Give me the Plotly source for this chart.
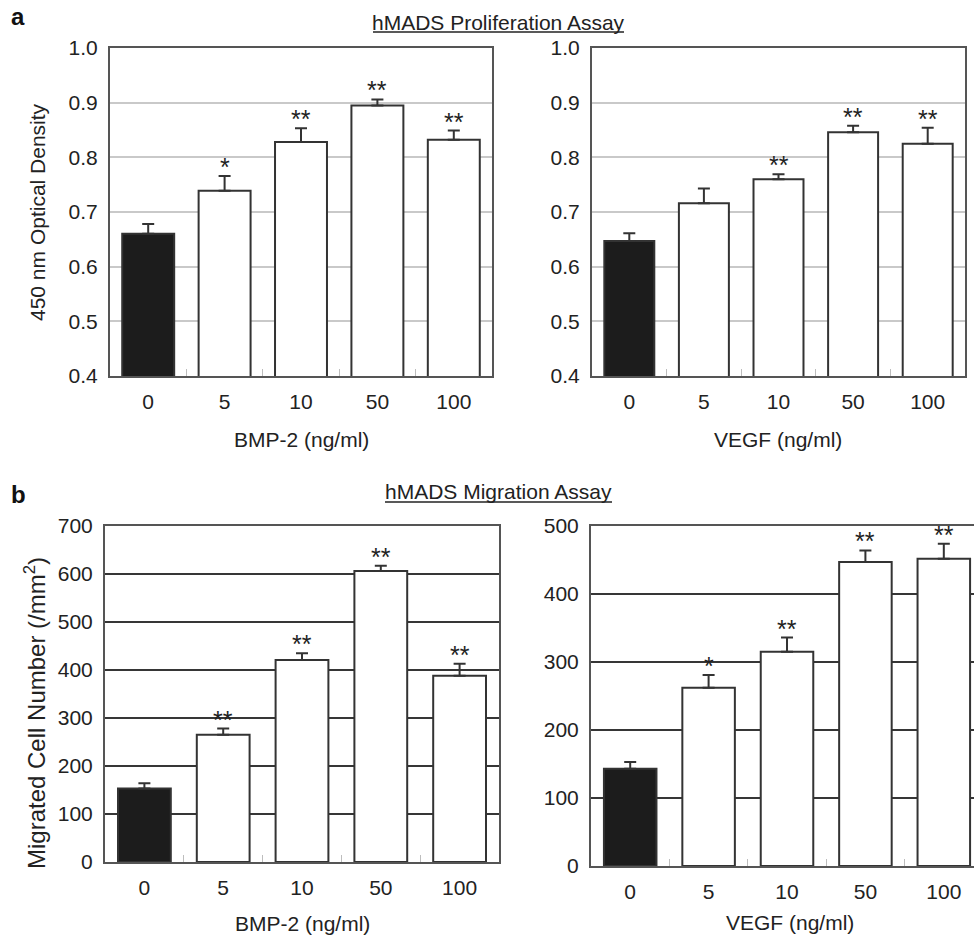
import plotly.graph_objects as go

# ---------------- data ----------------
doses = ["0", "5", "10", "50", "100"]

prolif_bmp2 = [0.660, 0.739, 0.828, 0.895, 0.832]
prolif_bmp2_err = [0.018, 0.027, 0.025, 0.011, 0.017]
prolif_bmp2_sig = ["", "*", "**", "**", "**"]

prolif_vegf = [0.647, 0.716, 0.760, 0.846, 0.825]
prolif_vegf_err = [0.014, 0.027, 0.009, 0.012, 0.029]
prolif_vegf_sig = ["", "", "**", "**", "**"]

migr_bmp2 = [153, 265, 421, 606, 388]
migr_bmp2_err = [11, 13, 14, 11, 25]
migr_bmp2_sig = ["", "**", "**", "**", "**"]

migr_vegf = [143, 262, 315, 447, 452]
migr_vegf_err = [10, 19, 21, 17, 22]
migr_vegf_sig = ["", "*", "**", "**", "**"]

W, H = 974, 937
FONT = "Liberation Sans, Arial, Helvetica, sans-serif"
TXT = "#222222"


def px_x(a, b):
    return [a / W, b / W]


def px_y(top, bottom):
    return [1 - bottom / H, 1 - top / H]


panels = [
    # (values, errors, sig, xaxis, yaxis, xdom, ydom, yrange, dtick, gridcolor, bargap, xrange, mirror_y)
    (prolif_bmp2, prolif_bmp2_err, prolif_bmp2_sig, "x", "y", px_x(110, 492), px_y(48, 376),
     [0.4, 1.0], 0.1, "#c9c9c9", 0.32, [-0.5, 4.5], True),
    (prolif_vegf, prolif_vegf_err, prolif_vegf_sig, "x2", "y2", px_x(592, 965), px_y(48, 376),
     [0.4, 1.0], 0.1, "#c9c9c9", 0.33, [-0.5, 4.5], True),
    (migr_bmp2, migr_bmp2_err, migr_bmp2_sig, "x3", "y3", px_x(105, 499), px_y(526, 862),
     [0, 700], 100, "#363636", 0.33, [-0.5, 4.5], True),
    (migr_vegf, migr_vegf_err, migr_vegf_sig, "x4", "y4", [591 / W, 1.0], px_y(526, 866),
     [0, 500], 100, "#363636", 0.33, [-0.5, 4.385], False),
]

fig = go.Figure()
annotations = []
shapes = []
layout_axes = {}

for vals, errs, sig, xa, ya, xdom, ydom, yr, dt, gc, bg, xr, mir in panels:
    fig.add_trace(go.Bar(
        x=doses, y=vals, xaxis=xa, yaxis=ya,
        marker=dict(color=["#1c1c1c"] + ["#ffffff"] * 4,
                    line=dict(color="#333333", width=2)),
        error_y=dict(type="data", symmetric=False, array=errs,
                     arrayminus=[0] * len(errs), color="#333333",
                     thickness=2, width=6),
        width=1 - bg,
        showlegend=False, hoverinfo="skip",
    ))
    xname = "xaxis" if xa == "x" else "xaxis" + xa[1:]
    yname = "yaxis" if ya == "y" else "yaxis" + ya[1:]
    layout_axes[xname] = dict(
        domain=xdom, anchor=ya, type="category", range=xr, automargin=False,
        showline=True, linecolor="#555555", linewidth=2, mirror=True,
        ticks="inside", tickson="boundaries", ticklen=7, tickwidth=1,
        tickcolor="#bdbdbd", showgrid=False, zeroline=False,
        tickfont=dict(family=FONT, size=21, color=TXT),
        ticklabelstandoff=6, fixedrange=True,
    )
    layout_axes[yname] = dict(
        domain=ydom, anchor=xa, range=yr, dtick=dt, automargin=False,
        tickformat=".1f" if dt < 1 else "d",
        showline=True, linecolor="#555555", linewidth=2, mirror=mir,
        ticks="", showgrid=True, gridcolor=gc, gridwidth=2, zeroline=False,
        tickfont=dict(family=FONT, size=21, color=TXT),
        ticklabelstandoff=6, fixedrange=True,
    )
    # significance stars: category axes place annotations by category index
    for k, (v, e, s) in enumerate(zip(vals, errs, sig)):
        if s:
            annotations.append(dict(
                x=k, y=v + e, xref=xa, yref=ya, text=s, showarrow=False,
                xanchor="center", yanchor="bottom", yshift=-7,
                font=dict(family=FONT, size=25, color=TXT),
            ))


def ann(x, y, text, size=21, bold=False, angle=0):
    annotations.append(dict(
        x=x / W, y=1 - y / H, xref="paper", yref="paper",
        text=("<b>%s</b>" % text) if bold else text, showarrow=False,
        xanchor="center", yanchor="middle", textangle=angle,
        font=dict(family=FONT, size=size, color="#111111" if bold else TXT),
    ))


def underline(x0, x1, y):
    shapes.append(dict(type="line", xref="paper", yref="paper",
                       x0=x0 / W, x1=x1 / W, y0=1 - y / H, y1=1 - y / H,
                       line=dict(color=TXT, width=1.3)))


ann(18, 16, "a", size=24, bold=True)
ann(18, 494, "b", size=24, bold=True)
ann(498, 22, "hMADS Proliferation Assay")
underline(373, 624, 32)
ann(498, 492, "hMADS Migration Assay")
underline(385, 612, 502)
ann(38, 212, "450 nm Optical Density", angle=-90)
ann(35, 713, "Migrated Cell Number (/mm<sup>2</sup>)", size=24, angle=-90)
ann(301, 440, "BMP-2 (ng/ml)")
ann(778, 440, "VEGF (ng/ml)")
ann(302, 923, "BMP-2 (ng/ml)")
ann(790, 922, "VEGF (ng/ml)")

fig.update_layout(
    width=W, height=H,
    margin=dict(l=0, r=0, t=0, b=0, autoexpand=False),
    paper_bgcolor="white", plot_bgcolor="white",
    annotations=annotations,
    shapes=shapes,
    font=dict(family=FONT, color=TXT),
    **layout_axes,
)

fig.write_html("out.html")
